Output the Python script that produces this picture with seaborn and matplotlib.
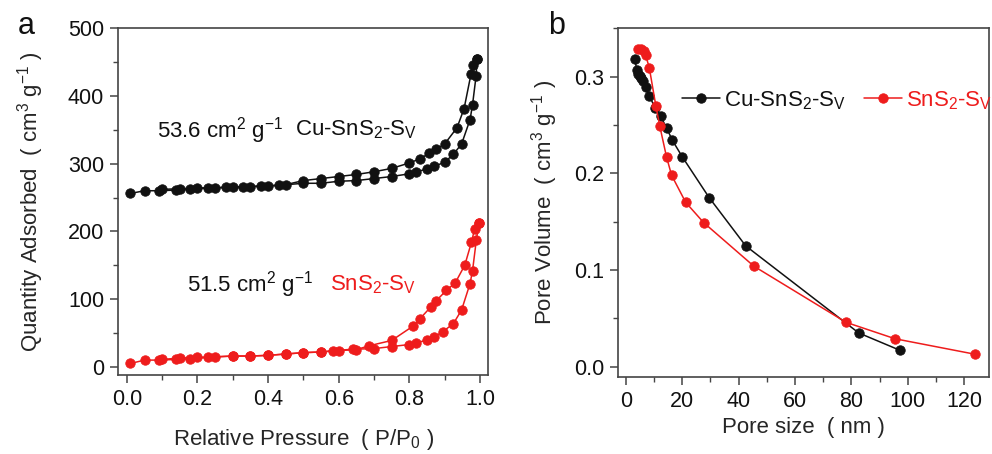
import matplotlib
matplotlib.use("Agg")
import matplotlib.pyplot as plt
from matplotlib.ticker import MultipleLocator
import seaborn as sns
import pandas as pd

sns.set_theme(style="ticks")
plt.rcParams["font.family"] = ["Liberation Sans", "DejaVu Sans"]
plt.rcParams["mathtext.default"] = "regular"

# N2 sorption isotherms (relative pressure vs quantity adsorbed, cm3/g)
cu_ads_p = [0.01, 0.05, 0.09, 0.14, 0.18, 0.23, 0.28, 0.33, 0.38, 0.43, 0.50, 0.55, 0.60,
            0.65, 0.70, 0.75, 0.80, 0.82, 0.85, 0.87, 0.90, 0.925, 0.948, 0.972, 0.979,
            0.989, 0.992]
cu_ads_q = [256, 260, 260, 261, 263, 264, 265, 266, 267, 268, 271, 271, 274,
            275, 278, 281, 285, 288, 292, 296, 302, 314, 329, 365, 387,
            429, 455]
cu_des_p = [0.992, 0.98, 0.975, 0.955, 0.935, 0.90, 0.875, 0.855, 0.83, 0.80, 0.75, 0.70,
            0.65, 0.60, 0.55, 0.50, 0.45, 0.40, 0.35, 0.30, 0.25, 0.20, 0.15, 0.10]
cu_des_q = [455, 445, 433, 381, 353, 329, 321, 315, 307, 301, 293, 288,
            284, 281, 278, 275, 269, 267, 266, 265, 264.5, 264, 263, 262]

sn_ads_p = [0.01, 0.05, 0.09, 0.14, 0.18, 0.23, 0.30, 0.35, 0.40, 0.45, 0.50, 0.55, 0.585,
            0.64, 0.70, 0.75, 0.80, 0.82, 0.85, 0.87, 0.895, 0.925, 0.948, 0.972, 0.979,
            0.99, 0.997]
sn_ads_q = [5, 10, 10, 11, 12, 14, 16, 16, 17, 19, 21, 22, 24,
            26, 27, 30, 33, 35, 40, 44, 52, 64, 84, 123, 142,
            188, 212]
sn_des_p = [0.997, 0.985, 0.976, 0.957, 0.93, 0.905, 0.875, 0.86, 0.83, 0.81, 0.75, 0.685,
            0.65, 0.60, 0.55, 0.50, 0.45, 0.40, 0.35, 0.30, 0.25, 0.20, 0.15, 0.10]
sn_des_q = [212, 204, 184, 150, 124, 113, 97, 88, 71, 60, 39, 31,
            25.5, 24, 22, 21, 19, 17, 16, 16, 15, 14, 13, 11]

# Pore size distribution (pore size nm vs pore volume cm3/g)
cu_size = [3.2, 3.8, 4.4, 5.0, 5.5, 6.1, 7.0, 8.3, 10.3, 12.3, 14.4, 16.5, 20.0, 29.5,
           42.5, 82.6, 97.3]
cu_vol = [0.318, 0.307, 0.303, 0.301, 0.298, 0.295, 0.289, 0.280, 0.268, 0.259, 0.247,
          0.234, 0.217, 0.175, 0.125, 0.035, 0.017]
sn_size = [4.4, 5.5, 6.4, 7.0, 8.3, 10.6, 12.0, 14.4, 16.2, 21.2, 27.6, 45.4, 78.1, 95.5,
           123.9]
sn_vol = [0.328, 0.328, 0.326, 0.322, 0.309, 0.270, 0.249, 0.217, 0.198, 0.170, 0.149,
          0.104, 0.046, 0.029, 0.013]

label_cu = "Cu-SnS$_2$-S$_V$"
label_sn = "SnS$_2$-S$_V$"
BLACK = "#111111"
RED = "#ee1c1c"
SPINE = "#444444"
FS_TICK = 15.5
FS_TEXT = 16

fig = plt.figure(figsize=(9.92, 4.54), dpi=100)
ax1 = fig.add_axes([0.119, 0.174, 0.373, 0.764])
ax2 = fig.add_axes([0.623, 0.170, 0.374, 0.768])

mk = dict(marker="o", markersize=6.8, markeredgewidth=0.6, linewidth=1.1,
          sort=False, estimator=None)


def branch(ax, p, q, color):
    df = pd.DataFrame({"p": p, "q": q})
    sns.lineplot(data=df, x="p", y="q", ax=ax, color=color, markerfacecolor=color,
                 markeredgecolor=color, **mk)


branch(ax1, cu_ads_p, cu_ads_q, BLACK)
branch(ax1, cu_des_p, cu_des_q, BLACK)
branch(ax1, sn_ads_p, sn_ads_q, RED)
branch(ax1, sn_des_p, sn_des_q, RED)

ax1.set_xlim(-0.025, 1.023)
ax1.set_ylim(-12, 500)
ax1.xaxis.set_minor_locator(MultipleLocator(0.1))
ax1.yaxis.set_major_locator(MultipleLocator(100))
ax1.yaxis.set_minor_locator(MultipleLocator(50))
ax1.set_xticks([0, 0.2, 0.4, 0.6, 0.8, 1.0])
ax1.set_xticklabels(["0.0", "0.2", "0.4", "0.6", "0.8", "1.0"])
ax1.set_xlabel("Relative Pressure  ( P/P$_0$ )", fontsize=FS_TEXT, labelpad=12)
ax1.set_ylabel("Quantity Adsorbed  ( cm$^3$ g$^{-1}$ )", fontsize=FS_TEXT, labelpad=16)

ax1.text(0.105, 0.706, "53.6 cm$^2$ g$^{-1}$", transform=ax1.transAxes,
         fontsize=FS_TEXT, color=BLACK, va="center")
ax1.text(0.478, 0.706, label_cu, transform=ax1.transAxes, fontsize=FS_TEXT,
         color=BLACK, va="center")
ax1.text(0.186, 0.26, "51.5 cm$^2$ g$^{-1}$", transform=ax1.transAxes,
         fontsize=FS_TEXT, color=BLACK, va="center")
ax1.text(0.573, 0.26, label_sn, transform=ax1.transAxes, fontsize=FS_TEXT,
         color=RED, va="center")

df_cu = pd.DataFrame({"size": cu_size, "vol": cu_vol})
df_sn = pd.DataFrame({"size": sn_size, "vol": sn_vol})
sns.lineplot(data=df_cu, x="size", y="vol", ax=ax2, color=BLACK, label=label_cu,
             markerfacecolor=BLACK, markeredgecolor=BLACK, **mk)
sns.lineplot(data=df_sn, x="size", y="vol", ax=ax2, color=RED, label=label_sn,
             markerfacecolor=RED, markeredgecolor=RED, **mk)

ax2.set_xlim(-2.8, 128.8)
ax2.set_ylim(-0.0103, 0.35)
ax2.xaxis.set_major_locator(MultipleLocator(20))
ax2.xaxis.set_minor_locator(MultipleLocator(10))
ax2.yaxis.set_minor_locator(MultipleLocator(0.05))
ax2.set_yticks([0.0, 0.1, 0.2, 0.3])
ax2.set_yticklabels(["0.0", "0.1", "0.2", "0.3"])
ax2.set_xlabel("Pore size  ( nm )", fontsize=FS_TEXT, labelpad=4)
ax2.set_ylabel("Pore Volume  ( cm$^3$ g$^{-1}$ )", fontsize=FS_TEXT, labelpad=10)
ax2.legend(loc="upper left", bbox_to_anchor=(0.172, 0.825), ncol=2, frameon=False,
           fontsize=FS_TEXT, labelcolor="linecolor", handlelength=1.7,
           handletextpad=0.2, columnspacing=0.8, borderaxespad=0, borderpad=0)

for ax in (ax1, ax2):
    for s in ax.spines.values():
        s.set_color(SPINE)
        s.set_linewidth(1.2)
    ax.tick_params(which="major", direction="out", length=6, width=1.1,
                   color=SPINE, labelsize=FS_TICK, labelcolor="#111111", pad=4)
    ax.tick_params(which="minor", direction="out", length=3.5, width=1.0, color=SPINE)

fig.text(0.018, 0.925, "a", fontsize=22, color="#111111")
fig.text(0.553, 0.925, "b", fontsize=22, color="#111111")

fig.savefig("out.png", dpi=100, facecolor="white")
